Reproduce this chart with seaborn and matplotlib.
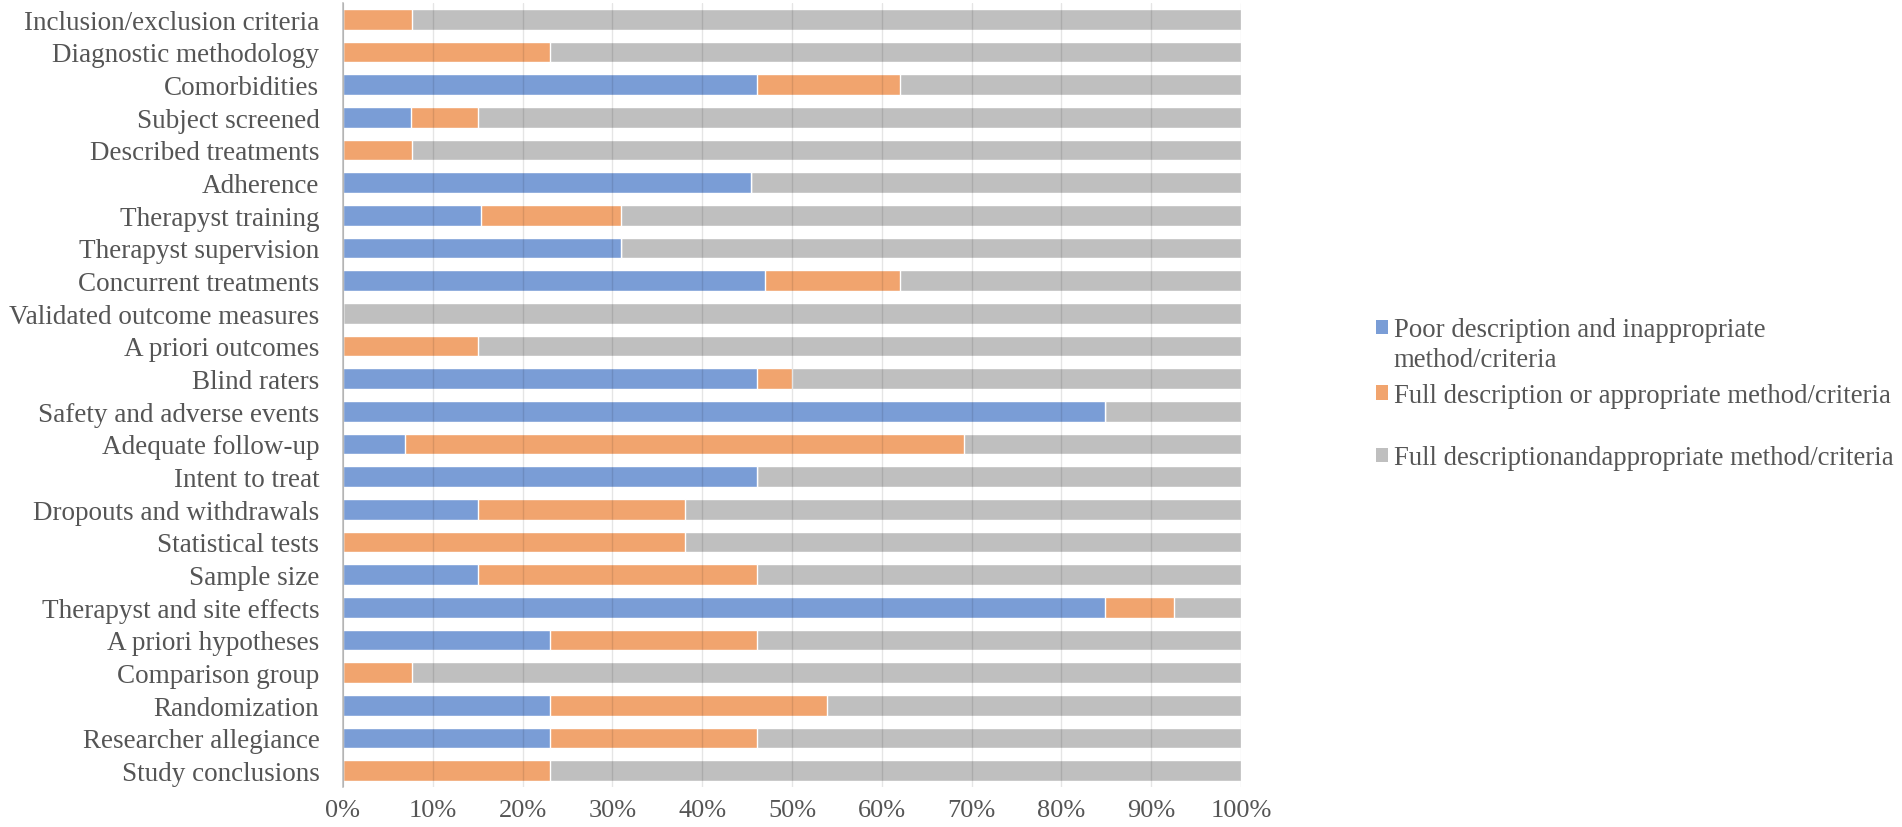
import matplotlib
matplotlib.use("Agg")
import matplotlib.pyplot as plt
from matplotlib.patches import Patch
from matplotlib.ticker import FuncFormatter
import seaborn as sns
import pandas as pd
import numpy as np

categories = [
    "Inclusion/exclusion criteria", "Diagnostic methodology", "Comorbidities",
    "Subject screened", "Described treatments", "Adherence", "Therapyst training",
    "Therapyst supervision", "Concurrent treatments", "Validated outcome measures",
    "A priori outcomes", "Blind raters", "Safety and adverse events",
    "Adequate follow-up", "Intent to treat", "Dropouts and withdrawals",
    "Statistical tests", "Sample size", "Therapyst and site effects",
    "A priori hypotheses", "Comparison group", "Randomization",
    "Researcher allegiance", "Study conclusions",
]
poor = [0, 0, 46.1, 7.6, 0, 45.4, 15.4, 31.0, 47.0, 0, 0, 46.1, 84.9, 6.9,
        46.1, 15.0, 0, 15.0, 84.9, 23.1, 0, 23.1, 23.1, 0]
full_or = [7.7, 23.1, 15.9, 7.4, 7.7, 0, 15.6, 0, 15.0, 0, 15.0, 3.9, 0, 62.2,
           0, 23.1, 38.1, 31.1, 7.6, 23.0, 7.7, 30.8, 23.0, 23.1]
full_and = [round(100 - p - o, 1) for p, o in zip(poor, full_or)]

# legend lines (first series label wraps onto two lines, as in the original)
legend_lines = [
    "Poor description and inappropriate",
    "method/criteria",
    "Full description or appropriate method/criteria",
    "Full descriptionandappropriate method/criteria",
]
colors = ["#7A9DD6", "#F1A46E", "#BFBFBF"]
text_color = "#555555"

df = pd.DataFrame({"cat": categories, "poor": poor, "full_or": full_or, "full_and": full_and})
df["cum2"] = df["poor"] + df["full_or"]
df["cum3"] = df["cum2"] + df["full_and"]

sns.set_theme(style="white")
plt.rcParams["font.family"] = ["Liberation Serif", "DejaVu Serif"]

fig = plt.figure(figsize=(19.02, 8.28), dpi=100)
ax = fig.add_axes([343 / 1902, 1 - 788 / 828, (1241 - 343) / 1902, (788 - 4) / 828])

bw = 0.64
sns.barplot(data=df, x="cum3", y="cat", orient="h", color=colors[2], saturation=1,
            width=bw, errorbar=None, ax=ax, order=categories)
sns.barplot(data=df, x="cum2", y="cat", orient="h", color=colors[1], saturation=1,
            width=bw, errorbar=None, ax=ax, order=categories)
sns.barplot(data=df, x="poor", y="cat", orient="h", color=colors[0], saturation=1,
            width=bw, errorbar=None, ax=ax, order=categories)

ax.set_xlim(0, 100)
ax.set_ylim(len(categories) - 0.5, -0.5)
ax.set_xticks(np.arange(0, 101, 10))
ax.xaxis.set_major_formatter(FuncFormatter(lambda v, p: f"{int(v)}%"))
ax.set_xlabel("")
ax.set_ylabel("")
ax.tick_params(axis="both", length=0, labelcolor=text_color)
ax.tick_params(axis="y", pad=17, labelsize=19.5)
ax.tick_params(axis="x", pad=9, labelsize=19)

ax.set_axisbelow(False)
ax.grid(axis="x", color="#000000", alpha=0.10, linewidth=1.0)
ax.grid(axis="y", visible=False)
for s in ["top", "right", "bottom"]:
    ax.spines[s].set_visible(False)
ax.spines["left"].set_color("#BFBFBF")
ax.spines["left"].set_linewidth(1.2)

leg_x = 1375.5 / 1902
line_y = [331, 361, 396.5, 459]
line_handles = [
    Patch(facecolor=colors[0], edgecolor="none"),
    Patch(facecolor="none", edgecolor="none"),
    Patch(facecolor=colors[1], edgecolor="none"),
    Patch(facecolor=colors[2], edgecolor="none"),
]
for h, name, y in zip(line_handles, legend_lines, line_y):
    lg = fig.legend(handles=[h], labels=[name],
                    loc="center left", bbox_to_anchor=(leg_x, 1 - y / 828), frameon=False,
                    fontsize=19.3, handlelength=0.45, handleheight=0.45,
                    handletextpad=0.23, borderpad=0, borderaxespad=0)
    for t in lg.get_texts():
        t.set_color(text_color)

fig.savefig("out.png", dpi=100)
